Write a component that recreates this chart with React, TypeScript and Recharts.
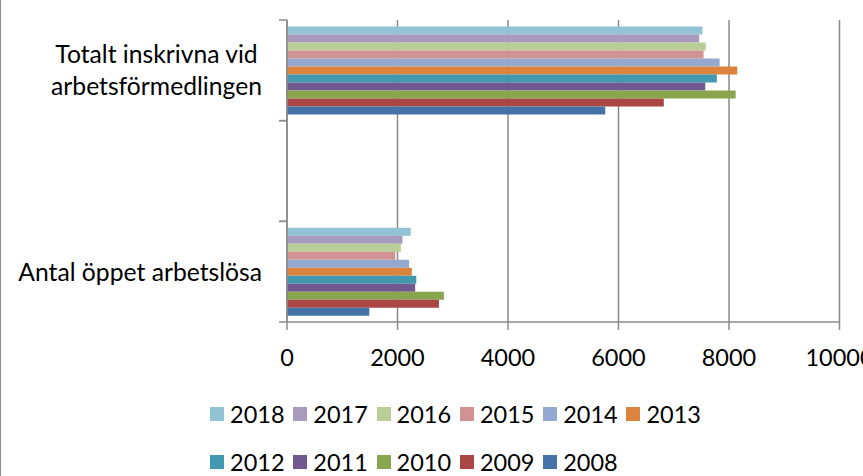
import React from 'react';
import { BarChart, Bar, XAxis, YAxis, CartesianGrid, Legend } from 'recharts';

// Categories (top to bottom); the middle one is an empty Excel category
const categories = ['Totalt inskrivna vid\narbetsförmedlingen', ' ', 'Antal öppet arbetslösa'];

// Series, listed from the top bar to the bottom bar in each group
const years = ['2018', '2017', '2016', '2015', '2014', '2013', '2012', '2011', '2010', '2009', '2008'];
const colors = ['#91C3D5', '#A99BBD', '#B9CD96', '#D19392', '#93A9CF', '#DB843D', '#4198AF', '#71588F', '#89A54E', '#AA4643', '#4572A7'];

// Values per year, same order as `years`
const totaltInskrivna = [7520, 7460, 7580, 7540, 7830, 8150, 7780, 7570, 8120, 6820, 5760];
const oppetArbetslosa = [2240, 2090, 2060, 1960, 2210, 2260, 2340, 2320, 2840, 2750, 1490];

const xTicks = [0, 2000, 4000, 6000, 8000, 10000];

const data = categories.map((name, ci) => {
  const row: Record<string, any> = { name };
  years.forEach((y, i) => {
    row[y] = ci === 0 ? totaltInskrivna[i] : ci === 2 ? oppetArbetslosa[i] : null;
  });
  return row;
});

const FONT = 'Lato, "Open Sans", sans-serif';
const FS = 23.5;
const CAT_FS = 24.7;
const AXIS = '#8a8a8a';

let ctx: CanvasRenderingContext2D | null = null;
function measure(t: string): number {
  if (typeof document === 'undefined') return t.length * CAT_FS * 0.5;
  if (!ctx) {
    const c = document.createElement('canvas');
    ctx = c.getContext('2d');
  }
  if (!ctx) return t.length * CAT_FS * 0.5;
  ctx.font = `${CAT_FS}px Lato`;
  return ctx.measureText(t).width;
}

const CatTick = (props: any) => {
  const { x, y, payload } = props;
  const half = payload && typeof payload.offset === 'number' && payload.offset > 0 ? payload.offset : 50.33;
  const axisX = x + 25;
  const lines = String(payload.value).split('\n');
  const maxW = Math.max(...lines.map(measure));
  const cx = axisX - 25 - maxW / 2;
  const lh = 32;
  return (
    <g>
      <line x1={axisX - 8} x2={axisX} y1={y - half} y2={y - half} stroke={AXIS} strokeWidth={1.5} />
      <line x1={axisX - 8} x2={axisX} y1={y + half} y2={y + half} stroke={AXIS} strokeWidth={1.5} />
      <text x={cx} y={y} textAnchor="middle" fontFamily={FONT} fontSize={CAT_FS} fill="#000">
        {lines.map((l, i) => (
          <tspan key={i} x={cx} y={y + (i - (lines.length - 1) / 2) * lh} dy="0.36em">
            {l}
          </tspan>
        ))}
      </text>
    </g>
  );
};

const renderLegend = (props: any) => {
  const payload = [...(props.payload || [])].sort(
    (a: any, b: any) => years.indexOf(String(a.value)) - years.indexOf(String(b.value))
  );
  return (
    <div style={{ display: 'flex', flexWrap: 'wrap', width: 520 }}>
      {payload.map((e: any) => (
        <div key={e.value} style={{ width: 83.3, height: 48, display: 'flex', alignItems: 'center' }}>
          <span style={{ width: 14, height: 14, background: e.color, marginRight: 6, flex: 'none' }} />
          <span style={{ fontFamily: FONT, fontSize: FS, color: '#000', lineHeight: '48px' }}>{e.value}</span>
        </div>
      ))}
    </div>
  );
};

export default function App() {
  return (
    <div style={{ position: 'absolute', left: 0, top: 0, width: 863, height: 476, background: '#fff', overflow: 'hidden' }}>
      <BarChart
        layout="vertical"
        width={863}
        height={476}
        data={data}
        margin={{ top: 20, right: 23.5, left: 0, bottom: 114 }}
        barCategoryGap={6.5}
        barGap={0}
      >
        <CartesianGrid horizontal={false} stroke={AXIS} strokeWidth={1.5} />
        <XAxis
          type="number"
          domain={[0, 10000]}
          ticks={xTicks}
          interval={0}
          height={40}
          stroke={AXIS}
          strokeWidth={1.5}
          tickSize={8}
          tickMargin={19}
          tick={{ fill: '#000', fontSize: FS, fontFamily: FONT }}
        />
        <YAxis
          type="category"
          dataKey="name"
          width={287}
          stroke={AXIS}
          strokeWidth={1.5}
          tickLine={false}
          tickSize={8}
          tickMargin={17}
          interval={0}
          tick={(p: any) => <CatTick {...p} />}
        />
        {years.map((y, i) => (
          <Bar key={y} dataKey={y} name={y} fill={colors[i]} isAnimationActive={false} />
        ))}
        <Legend
          layout="horizontal"
          verticalAlign="middle"
          align="center"
          width={520}
          wrapperStyle={{ top: 390, left: 210, width: 520 }}
          content={renderLegend}
        />
      </BarChart>
      <div style={{ position: 'absolute', left: 0, top: 0, width: 1, height: 476, background: '#8a8a8a' }} />
    </div>
  );
}
